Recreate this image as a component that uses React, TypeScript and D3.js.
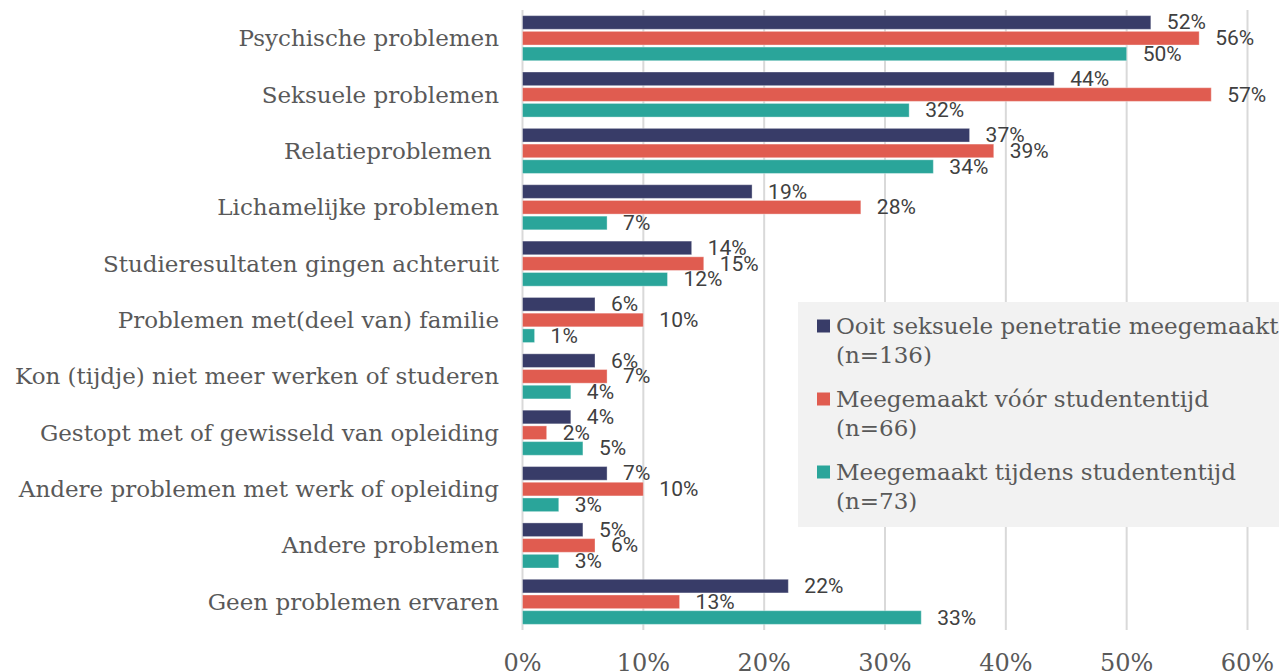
import React from "react";
import * as d3 from "d3";

const categories = [
  "Psychische problemen",
  "Seksuele problemen",
  "Relatieproblemen ",
  "Lichamelijke problemen",
  "Studieresultaten gingen achteruit",
  "Problemen met(deel van) familie",
  "Kon (tijdje) niet meer werken of studeren",
  "Gestopt met of gewisseld van opleiding",
  "Andere problemen met werk of opleiding",
  "Andere problemen",
  "Geen problemen ervaren",
];

const seriesNames = [
  ["Ooit seksuele penetratie meegemaakt", "(n=136)"],
  ["Meegemaakt vóór studententijd", "(n=66)"],
  ["Meegemaakt tijdens studententijd", "(n=73)"],
];

const ooit = [52, 44, 37, 19, 14, 6, 6, 4, 7, 5, 22];
const voor = [56, 57, 39, 28, 15, 10, 7, 2, 10, 6, 13];
const tijdens = [50, 32, 34, 7, 12, 1, 4, 5, 3, 3, 33];

const ticks = [0, 10, 20, 30, 40, 50, 60];

const colors = ["#383c68", "#e05c50", "#2aa59a"];

const serif = "'DejaVu Serif', 'Liberation Serif', serif";
const sans = "Roboto, 'Liberation Sans', sans-serif";

const App = () => {
  const width = 1279;
  const height = 671;
  const margins = { top: 10, bottom: 41, left: 522.5 };

  const series = [ooit, voor, tijdens];

  const xScale = d3.scaleLinear().domain([0, 60]).range([margins.left, 1247.5]);

  const yScale = d3
    .scaleBand()
    .domain(categories)
    .range([margins.top, height - margins.bottom])
    .paddingInner(0.2)
    .paddingOuter(0.1);

  const innerScale = d3
    .scaleBand()
    .domain(["0", "1", "2"])
    .range([0, yScale.bandwidth()])
    .paddingInner(0.13);

  const bars = categories.map((cat, ci) => (
    <g key={cat} transform={`translate(0, ${yScale(cat)})`}>
      {series.map((vals, si) => {
        const y = innerScale(String(si)) as number;
        const w = xScale(vals[ci]) - xScale(0);
        return (
          <g key={si}>
            <rect
              x={xScale(0)}
              y={y}
              width={w}
              height={innerScale.bandwidth()}
              fill={colors[si]}
              stroke="#ffffff"
              strokeOpacity={0.35}
              strokeWidth={1}
            />
            <text
              x={xScale(vals[ci]) + 16}
              y={y + innerScale.bandwidth() / 2}
              dominantBaseline="central"
              fontFamily={sans}
              fontSize={21}
              fill="#404040"
            >
              {vals[ci]}%
            </text>
          </g>
        );
      })}
    </g>
  ));

  const legendTop = 302;

  return (
    <svg
      width={width}
      height={height}
      style={{ position: "absolute", left: 0, top: 0, background: "#fff" }}
    >
      <g>
        {ticks.map((t) => (
          <g key={t}>
            <line
              x1={xScale(t)}
              x2={xScale(t)}
              y1={margins.top}
              y2={height - margins.bottom}
              stroke="#d9d9d9"
              strokeWidth={2}
            />
            <text
              x={xScale(t)}
              y={663}
              textAnchor="middle"
              dominantBaseline="central"
              fontFamily={serif}
              fontSize={24}
              fill="#595959"
            >
              {t}%
            </text>
          </g>
        ))}
      </g>
      <g>
        {categories.map((cat) => (
          <text
            key={cat}
            x={499}
            y={(yScale(cat) as number) + yScale.bandwidth() / 2}
            textAnchor="end"
            dominantBaseline="central"
            fontFamily={serif}
            fontSize={23}
            fill="#595959"
            style={{ whiteSpace: "pre" }}
          >
            {cat}
          </text>
        ))}
      </g>
      <g>{bars}</g>
      <g>
        <rect x={798} y={legendTop} width={500} height={225} fill="#f2f2f2" />
        {seriesNames.map((lines, i) => {
          const cy = 326 + i * 73;
          return (
            <g key={i}>
              <rect x={817} y={cy - 6.5} width={13} height={13} fill={colors[i]} />
              {lines.map((l, li) => (
                <text
                  key={li}
                  x={836}
                  y={cy + li * 29}
                  dominantBaseline="central"
                  fontFamily={serif}
                  fontSize={23}
                  fill="#595959"
                >
                  {l}
                </text>
              ))}
            </g>
          );
        })}
      </g>
    </svg>
  );
};

export default App;
